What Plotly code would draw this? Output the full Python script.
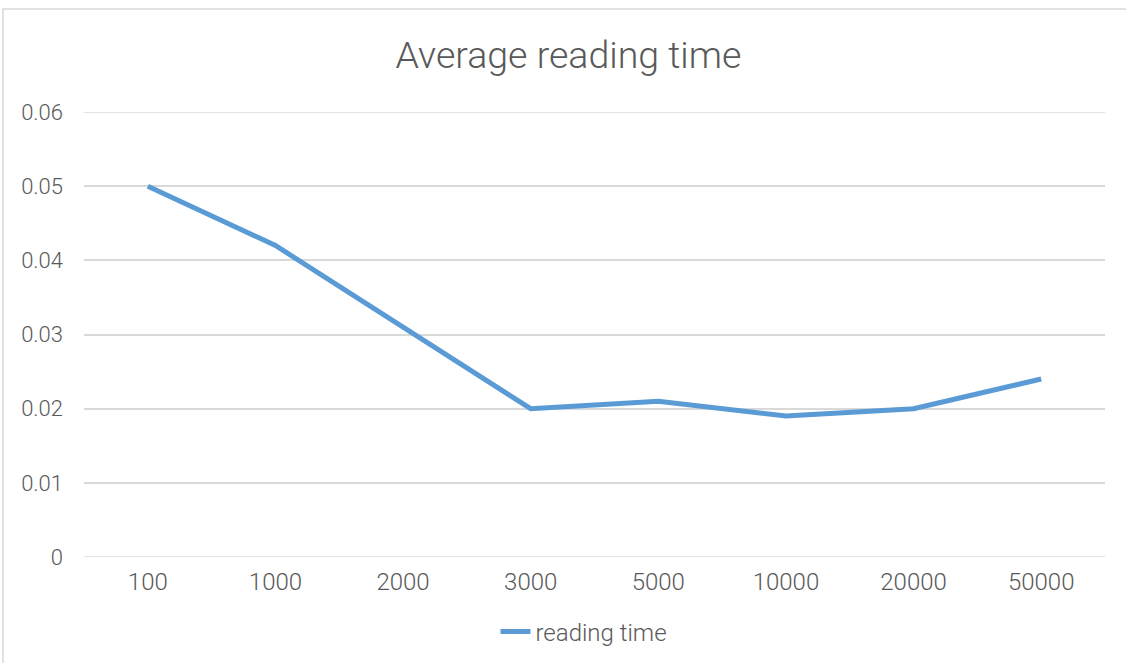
import plotly.graph_objects as go

categories = ["100", "1000", "2000", "3000", "5000", "10000", "20000", "50000"]
reading_time = [0.05, 0.042, 0.031, 0.02, 0.021, 0.019, 0.02, 0.024]
y_ticks = [0, 0.01, 0.02, 0.03, 0.04, 0.05, 0.06]
y_tick_labels = ["0", "0.01", "0.02", "0.03", "0.04", "0.05", "0.06"]

W, H = 1126, 663
L, R, T, B = 84, 21, 112, 106
pw, ph = W - L - R, H - T - B

fig = go.Figure()
fig.add_trace(go.Scatter(
    x=categories, y=reading_time, mode="lines", name="reading time",
    line=dict(color="#5B9BD5", width=5),
))

font_family = "Roboto, 'Noto Sans', sans-serif"
grid_color = "#D9D9D9"
edge_lines = [dict(type="line", xref="paper", yref="y", x0=0, x1=1, y0=v, y1=v,
                   line=dict(color=grid_color, width=1.5), layer="below")
              for v in (y_ticks[0], y_ticks[-1])]

fig.update_layout(
    width=W, height=H,
    margin=dict(l=L, r=R, t=T, b=B, autoexpand=False),
    paper_bgcolor="white", plot_bgcolor="white",
    title=dict(text="Average reading time", x=568.5 / W, xanchor="center",
               y=1 - 55 / H, yanchor="middle",
               font=dict(family=font_family, size=37.5, color="#595959", weight=300)),
    font=dict(family=font_family, color="#595959", size=22),
    xaxis=dict(type="category", range=[-0.5, 7.5], showgrid=False, zeroline=False,
               showline=False, ticks="", ticklabelstandoff=8,
               tickfont=dict(family=font_family, size=24, color="#595959", weight=300)),
    yaxis=dict(range=[0, 0.06], tickvals=y_ticks, ticktext=y_tick_labels,
               showgrid=True, gridcolor=grid_color, gridwidth=1.5, zeroline=False,
               showline=False, ticks="", ticklabelstandoff=20,
               tickfont=dict(family=font_family, size=22, color="#595959", weight=300)),
    showlegend=True,
    legend=dict(orientation="h", xref="container", x=584 / W, xanchor="center",
                yref="container", y=1 - 632 / H, yanchor="middle",
                font=dict(family=font_family, size=24, color="#595959", weight=300),
                bgcolor="rgba(0,0,0,0)"),
    shapes=[dict(type="rect", xref="paper", yref="paper",
                 x0=(3 - L) / pw, x1=(W + 20 - L) / pw,
                 y0=-(H + 20 - T - ph) / ph, y1=(T + ph - 9) / ph,
                 line=dict(color=grid_color, width=1.5), layer="below")] + edge_lines,
)

fig.write_html("out.html", config={"displayModeBar": False},
               post_script="document.body.style.margin='0';document.body.style.padding='0';")
